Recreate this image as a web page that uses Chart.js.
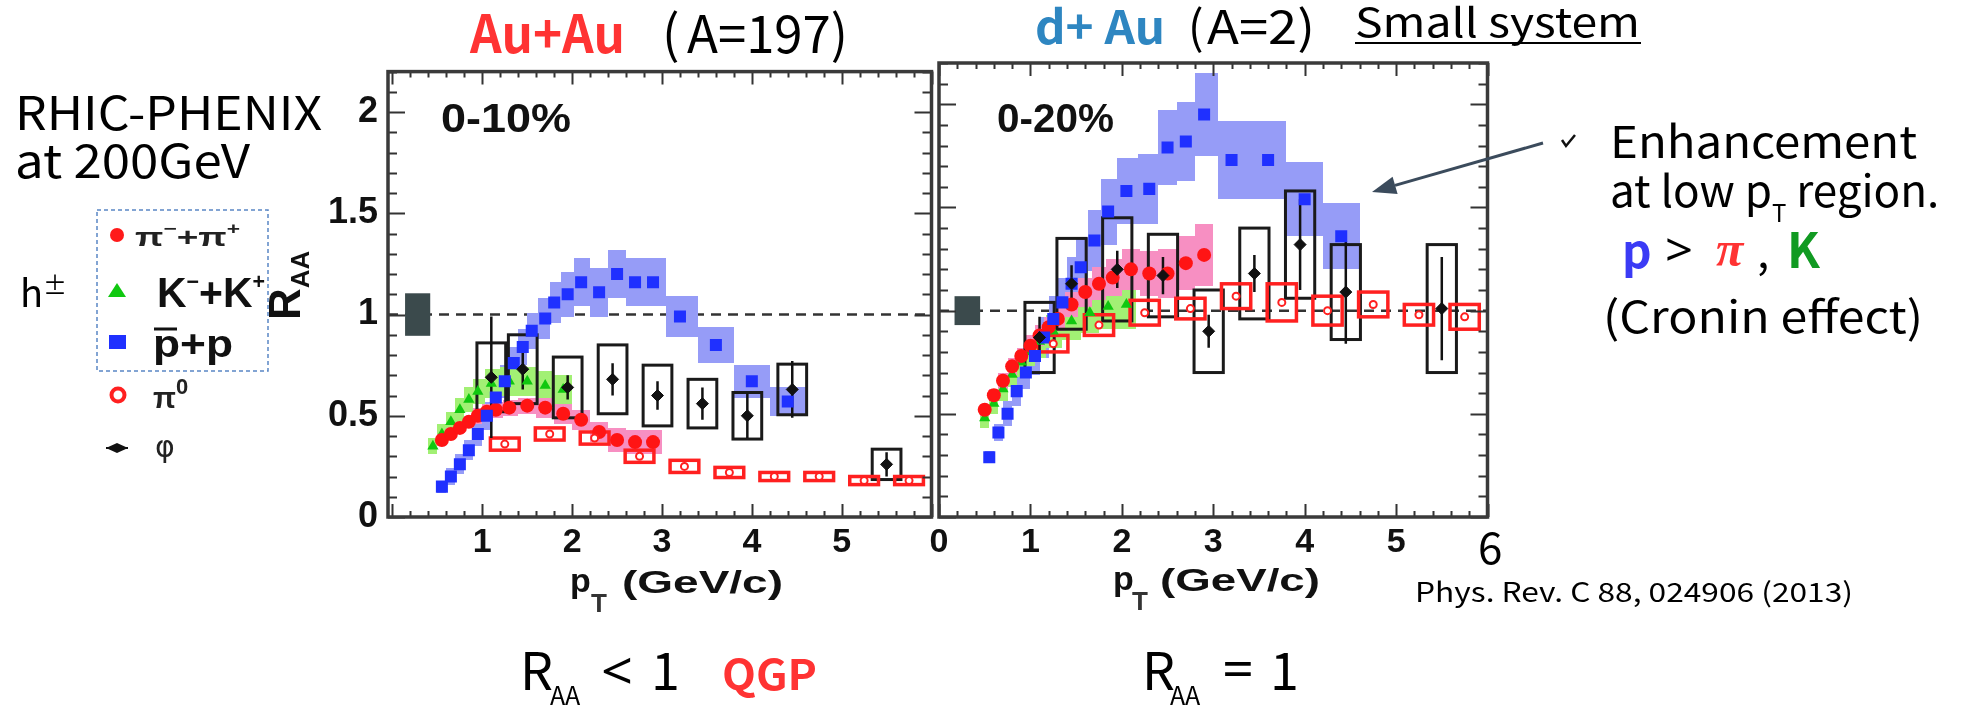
<!DOCTYPE html>
<html>
<head>
<meta charset="utf-8">
<script src="https://cdn.jsdelivr.net/npm/chart.js@4.4.1/dist/chart.umd.min.js"></script>
<style>
html, body { margin: 0; padding: 0; background: #fff; }
#page { position: relative; width: 1976px; height: 706px; overflow: hidden; background: #fff; }
.panel { position: absolute; }
#notes { position: absolute; left: 0; top: 0; pointer-events: none; font-family: 'Noto Sans CJK JP', 'Noto Sans', sans-serif; }
.hv { font-family: 'Liberation Sans', Arial, sans-serif; font-weight: bold; }
.ns { font-family: 'Noto Sans', sans-serif; }
</style>
</head>
<body>
<div id="page">
  <div class="panel" style="left:290px;top:40px;width:650px;height:540px"><canvas id="auau" width="650" height="540"></canvas></div>
  <div class="panel" style="left:920px;top:40px;width:576px;height:540px"><canvas id="dau" width="576" height="540"></canvas></div>

  <svg id="notes" width="1976" height="706">
    <!-- titles -->
    <text x="470" y="53" font-size="52" font-weight="bold" fill="#ff3333" textLength="155" lengthAdjust="spacingAndGlyphs">Au+Au</text>
    <text x="662" y="53" font-size="52">(</text>
    <text x="687" y="53" font-size="52" textLength="161" lengthAdjust="spacingAndGlyphs">A=197)</text>
    <text x="1035" y="44" font-size="46" font-weight="bold" fill="#2e86c1" textLength="130" lengthAdjust="spacingAndGlyphs">d+ Au</text>
    <text x="1188" y="44" font-size="46">(</text>
    <text x="1207" y="44" font-size="46" textLength="108" lengthAdjust="spacingAndGlyphs">A=2)</text>
    <text x="1355" y="37" font-size="40" textLength="285" lengthAdjust="spacingAndGlyphs">Small system</text>
    <line x1="1355" y1="43" x2="1641" y2="43" stroke="#000" stroke-width="2"/>

    <!-- left block -->
    <text x="15" y="130" font-size="46" textLength="307" lengthAdjust="spacingAndGlyphs">RHIC-PHENIX</text>
    <text x="15" y="178" font-size="46" textLength="235" lengthAdjust="spacingAndGlyphs">at 200GeV</text>
    <text x="20" y="307" font-size="38">h<tspan font-size="24" dy="-13">±</tspan></text>

    <!-- legend -->
    <rect x="97" y="210" width="171" height="161" fill="none" stroke="#5a86c5" stroke-width="1.5" stroke-dasharray="4 3"/>
    <circle cx="117" cy="235" r="7" fill="#ff1a1a"/>
    <text class="hv" x="135" y="246" font-size="26" fill="#222" textLength="105" lengthAdjust="spacingAndGlyphs">π<tspan font-size="16" dy="-12">−</tspan><tspan dy="12">+π</tspan><tspan font-size="16" dy="-12">+</tspan></text>
    <polygon points="117,283 108,297 126,297" fill="#10c810"/>
    <text class="hv" x="157" y="307" font-size="42" fill="#111" textLength="108" lengthAdjust="spacingAndGlyphs">K<tspan font-size="22" dy="-18">−</tspan><tspan dy="18">+K</tspan><tspan font-size="22" dy="-18">+</tspan></text>
    <rect x="109" y="335" width="17" height="14" fill="#1f30ff"/>
    <text class="hv" x="153" y="357" font-size="38" fill="#111" textLength="80" lengthAdjust="spacingAndGlyphs">p+p</text>
    <line x1="154" y1="329" x2="177" y2="329" stroke="#111" stroke-width="3"/>
    <circle cx="118" cy="395" r="6.5" fill="#fff" stroke="#ff2020" stroke-width="4"/>
    <text class="hv" x="153" y="408" font-size="30" fill="#222">π<tspan font-size="22" dy="-14">0</tspan></text>
    <polygon points="106,448 117,443 128,448 117,453" fill="#111"/>
    <line x1="106" y1="448" x2="128" y2="448" stroke="#111" stroke-width="2"/>
    <text x="155" y="457" font-size="30" fill="#222" font-family="DejaVu Sans">φ</text>

    <!-- axis titles -->
    <text class="hv" transform="translate(300,320) rotate(-90)" font-size="44" fill="#111">R<tspan font-size="26" dy="9">AA</tspan></text>
    <text class="hv" x="441" y="132" font-size="40" fill="#111" textLength="130" lengthAdjust="spacingAndGlyphs">0-10%</text>
    <text class="hv" x="997" y="132" font-size="40" fill="#111" textLength="117" lengthAdjust="spacingAndGlyphs">0-20%</text>
    <text class="hv" x="570" y="592" font-size="34" fill="#111">p</text>
    <text class="hv" x="591" y="612" font-size="26" fill="#333">T</text>
    <text class="hv" x="622" y="593" font-size="32" fill="#111" textLength="161" lengthAdjust="spacingAndGlyphs">(GeV/c)</text>
    <text class="hv" x="1113" y="590" font-size="34" fill="#111">p</text>
    <text class="hv" x="1132" y="610" font-size="26" fill="#333">T</text>
    <text class="hv" x="1160" y="591" font-size="32" fill="#111" textLength="160" lengthAdjust="spacingAndGlyphs">(GeV/c)</text>

    <!-- page number and reference -->
    <text x="1478" y="564" font-size="44">6</text>
    <text x="1415" y="602" font-size="27" textLength="438" lengthAdjust="spacingAndGlyphs">Phys. Rev. C 88, 024906 (2013)</text>

    <!-- bottom remarks -->
    <text x="520" y="690" font-size="52">R</text>
    <text x="550" y="705" font-size="25">AA</text>
    <text class="ns" x="601" y="690" font-size="52" textLength="32" lengthAdjust="spacingAndGlyphs">&lt;</text>
    <text x="651" y="690" font-size="52">1</text>
    <text x="722" y="690" font-size="42" font-weight="bold" fill="#ff3333" textLength="95" lengthAdjust="spacingAndGlyphs">QGP</text>
    <text x="1142" y="690" font-size="52">R</text>
    <text x="1170" y="705" font-size="25">AA</text>
    <text class="ns" x="1222" y="688" font-size="52" textLength="32" lengthAdjust="spacingAndGlyphs">=</text>
    <text x="1270" y="690" font-size="52">1</text>

    <!-- enhancement note -->
    <path d="M1562,140 l4,6 l9,-11" fill="none" stroke="#111" stroke-width="2.5"/>
    <line x1="1543" y1="143" x2="1395" y2="185.4" stroke="#3b4b5c" stroke-width="3"/>
    <polygon points="1372,192 1397.6,194 1392.6,176.8" fill="#3b4b5c"/>
    <text x="1610" y="158" font-size="44" textLength="307" lengthAdjust="spacingAndGlyphs">Enhancement</text>
    <text x="1610" y="207" font-size="44">at low p<tspan font-size="24" dy="15">T</tspan><tspan dy="-15"> region.</tspan></text>
    <text x="1622" y="268" font-size="46" font-weight="bold" fill="#3b3bf5">p</text>
    <text class="ns" x="1665" y="266" font-size="46" textLength="28" lengthAdjust="spacingAndGlyphs">&gt;</text>
    <text x="1716" y="266" font-size="50" font-weight="bold" font-style="italic" fill="#ff3333" font-family="Liberation Serif, serif">π</text>
    <text x="1757" y="268" font-size="44">,</text>
    <text x="1787" y="268" font-size="48" font-weight="bold" fill="#119a22">K</text>
    <text x="1603" y="333" font-size="44" textLength="320" lengthAdjust="spacingAndGlyphs">(Cronin effect)</text>
  </svg>
</div>

<script>
// ---- Au+Au 0-10% ----
const auPiX = [0.55, 0.65, 0.75, 0.85, 0.95, 1.05, 1.15, 1.3, 1.5, 1.7, 1.9, 2.1, 2.3, 2.5, 2.7, 2.9];
const auPiY = [0.38, 0.41, 0.44, 0.47, 0.50, 0.52, 0.53, 0.54, 0.55, 0.54, 0.51, 0.48, 0.42, 0.38, 0.37, 0.37];
const auPiSys = [0.03, 0.03, 0.03, 0.03, 0.04, 0.04, 0.04, 0.04, 0.04, 0.05, 0.05, 0.05, 0.05, 0.06, 0.06, 0.06];

const auKX = [0.45, 0.55, 0.65, 0.75, 0.85, 0.95, 1.1, 1.3, 1.5, 1.7, 1.9];
const auKY = [0.35, 0.41, 0.47, 0.53, 0.58, 0.62, 0.66, 0.67, 0.67, 0.65, 0.63];
const auKSys = [0.04, 0.05, 0.05, 0.06, 0.06, 0.06, 0.07, 0.07, 0.07, 0.07, 0.07];

const auPX = [0.55, 0.65, 0.75, 0.85, 0.95, 1.05, 1.15, 1.25, 1.35, 1.45, 1.55, 1.7, 1.8, 1.95, 2.1, 2.3, 2.5, 2.7, 2.9, 3.2, 3.6, 4.0, 4.4];
const auPY = [0.15, 0.20, 0.26, 0.33, 0.41, 0.50, 0.59, 0.67, 0.76, 0.84, 0.92, 0.98, 1.06, 1.10, 1.16, 1.11, 1.20, 1.16, 1.16, 0.99, 0.85, 0.67, 0.57];
const auPSys = [0.03, 0.04, 0.05, 0.05, 0.06, 0.07, 0.07, 0.08, 0.08, 0.09, 0.09, 0.10, 0.10, 0.11, 0.12, 0.12, 0.12, 0.12, 0.12, 0.10, 0.09, 0.08, 0.07];

const auPi0X = [1.25, 1.75, 2.25, 2.75, 3.25, 3.75, 4.25, 4.75, 5.25, 5.75];
const auPi0Y = [0.36, 0.41, 0.39, 0.30, 0.25, 0.22, 0.20, 0.20, 0.18, 0.18];
const auPi0Sys = [0.03, 0.03, 0.03, 0.03, 0.03, 0.025, 0.02, 0.02, 0.02, 0.02];

const auPhiX = [1.1, 1.45, 1.95, 2.45, 2.95, 3.45, 3.95, 4.45, 5.5];
const auPhiY = [0.69, 0.73, 0.64, 0.68, 0.60, 0.56, 0.50, 0.63, 0.26];
const auPhiStat = [0.30, 0.10, 0.06, 0.08, 0.07, 0.08, 0.11, 0.14, 0.06];
const auPhiSys = [0.17, 0.17, 0.15, 0.17, 0.15, 0.12, 0.115, 0.125, 0.075];

const auNormX = 0.28;
const auNorm = 0.105;

// ---- d+Au 0-20% ----
const dPiX = [0.5, 0.6, 0.7, 0.8, 0.9, 1.0, 1.1, 1.2, 1.3, 1.45, 1.6, 1.75, 1.9, 2.1, 2.3, 2.5, 2.7, 2.9];
const dPiY = [0.52, 0.59, 0.66, 0.73, 0.78, 0.83, 0.88, 0.92, 0.96, 1.03, 1.09, 1.13, 1.16, 1.20, 1.18, 1.18, 1.23, 1.27];
const dPiSys = [0.03, 0.03, 0.04, 0.04, 0.04, 0.05, 0.05, 0.05, 0.06, 0.06, 0.07, 0.08, 0.09, 0.10, 0.11, 0.12, 0.13, 0.15];

const dKX = [0.5, 0.6, 0.7, 0.8, 0.9, 1.0, 1.1, 1.25, 1.45, 1.65, 1.85, 2.05];
const dKY = [0.48, 0.55, 0.62, 0.69, 0.75, 0.80, 0.85, 0.90, 0.95, 0.99, 1.02, 1.03];
const dKSys = [0.05, 0.05, 0.06, 0.06, 0.07, 0.07, 0.08, 0.08, 0.09, 0.10, 0.11, 0.12];

const dPX = [0.55, 0.65, 0.75, 0.85, 0.95, 1.05, 1.15, 1.25, 1.35, 1.45, 1.55, 1.7, 1.85, 2.05, 2.3, 2.5, 2.7, 2.9, 3.2, 3.6, 4.0, 4.4];
const dPY = [0.29, 0.41, 0.50, 0.61, 0.70, 0.78, 0.87, 0.96, 1.04, 1.13, 1.21, 1.34, 1.48, 1.58, 1.59, 1.79, 1.82, 1.95, 1.73, 1.73, 1.54, 1.36];
const dPSys = [0.03, 0.04, 0.06, 0.07, 0.08, 0.09, 0.10, 0.11, 0.12, 0.13, 0.14, 0.15, 0.16, 0.16, 0.17, 0.18, 0.19, 0.20, 0.19, 0.19, 0.18, 0.16];

const dPi0X = [1.25, 1.75, 2.25, 2.75, 3.25, 3.75, 4.25, 4.75, 5.25, 5.75];
const dPi0Y = [0.84, 0.93, 0.99, 1.01, 1.07, 1.04, 1.00, 1.03, 0.98, 0.97];
const dPi0Sys = [0.04, 0.05, 0.06, 0.05, 0.06, 0.09, 0.07, 0.06, 0.05, 0.06];

const dPhiX = [1.1, 1.45, 1.95, 2.45, 2.95, 3.45, 3.95, 4.45, 5.5];
const dPhiY = [0.87, 1.13, 1.20, 1.17, 0.90, 1.18, 1.32, 1.09, 1.01];
const dPhiStat = [0.10, 0.09, 0.09, 0.09, 0.08, 0.09, 0.22, 0.25, 0.25];
const dPhiSys = [0.17, 0.22, 0.25, 0.20, 0.20, 0.22, 0.26, 0.23, 0.31];

const dNormX = 0.31;
const dNorm = 0.07;

const pts = (xs, ys) => xs.map((x, i) => ({ x: x, y: ys[i] }));

// bands, boxes, error bars, R=1 line, inward ticks
const decor = {
  id: 'decor',
  beforeDatasetsDraw(chart, args, opts) {
    const { ctx, chartArea: a, scales: { x, y } } = chart;
    const X = v => x.getPixelForValue(v), Y = v => y.getPixelForValue(v);
    ctx.save();
    ctx.beginPath();
    ctx.rect(a.left, a.top, a.width, a.height);
    ctx.clip();

    ctx.strokeStyle = '#333';
    ctx.lineWidth = 2.5;
    ctx.setLineDash([10, 7]);
    ctx.beginPath();
    ctx.moveTo(X(x.min), Y(1));
    ctx.lineTo(X(x.max), Y(1));
    ctx.stroke();
    ctx.setLineDash([]);

    ctx.fillStyle = '#3b4a4c';
    ctx.fillRect(X(opts.normX - 0.14), Y(1 + opts.norm), X(opts.normX + 0.14) - X(opts.normX - 0.14), Y(1 - opts.norm) - Y(1 + opts.norm));

    chart.data.datasets.filter(d => d.band).sort((p, q) => p.layer - q.layer).forEach(d => {
      const xs = d.data.map(p => p.x);
      ctx.fillStyle = d.bandColor;
      ctx.beginPath();
      d.data.forEach((p, i) => {
        const lo = i > 0 ? (xs[i - 1] + p.x) / 2 : p.x - (xs[1] - p.x) / 2;
        const hi = i < xs.length - 1 ? (xs[i + 1] + p.x) / 2 : p.x + (p.x - xs[i - 1]) / 2;
        const l = Math.round(X(lo)), r = Math.round(X(hi));
        const t = Math.round(Y(p.y + d.band[i])), b = Math.round(Y(p.y - d.band[i]));
        ctx.rect(l, t, r - l, b - t);
      });
      ctx.fill();
    });

    chart.data.datasets.filter(d => d.boxes).forEach(d => {
      ctx.strokeStyle = d.boxColor;
      ctx.lineWidth = d.boxLine;
      d.data.forEach((p, i) => {
        const l = X(p.x - 0.16), r = X(p.x + 0.16);
        const t = Y(p.y + d.boxes[i]), b = Y(p.y - d.boxes[i]);
        ctx.strokeRect(l, t, r - l, b - t);
      });
    });

    chart.data.datasets.filter(d => d.stat).forEach(d => {
      ctx.strokeStyle = '#111';
      ctx.lineWidth = 2.5;
      ctx.beginPath();
      d.data.forEach((p, i) => {
        ctx.moveTo(X(p.x), Y(p.y + d.stat[i]));
        ctx.lineTo(X(p.x), Y(p.y - d.stat[i]));
      });
      ctx.stroke();
    });
    ctx.restore();
  },
  afterDraw(chart) {
    const { ctx, chartArea: a, scales: { x, y } } = chart;
    ctx.save();
    ctx.strokeStyle = '#333';
    ctx.lineWidth = 2;
    ctx.beginPath();
    for (let i = Math.ceil(x.min * 5); i <= Math.floor(x.max * 5 + 1e-6); i++) {
      const px = Math.round(x.getPixelForValue(i / 5)) + 0.5;
      const len = i % 5 === 0 ? 13 : 6;
      ctx.moveTo(px, a.bottom); ctx.lineTo(px, a.bottom - len);
      ctx.moveTo(px, a.top); ctx.lineTo(px, a.top + len);
    }
    for (let i = 0; i <= Math.floor(y.max * 10 + 1e-6); i++) {
      const py = Math.round(y.getPixelForValue(i / 10)) + 0.5;
      const len = i % 5 === 0 ? 17 : 9;
      ctx.moveTo(a.left, py); ctx.lineTo(a.left + len, py);
      ctx.moveTo(a.right, py); ctx.lineTo(a.right - len, py);
    }
    ctx.stroke();
    ctx.strokeStyle = '#3a3a3a';
    ctx.lineWidth = 3.5;
    ctx.strokeRect(a.left, a.top, a.width, a.height);
    ctx.restore();
  }
};

function makeSets(pi, k, p, pi0, phi) {
  return [
    { label: 'phi', data: pts(phi[0], phi[1]), stat: phi[2], boxes: phi[3], boxColor: '#1a1a1a', boxLine: 3,
      pointStyle: 'rectRot', pointRadius: 6, backgroundColor: '#111', borderColor: '#111', borderWidth: 1 },
    { label: 'pi0', data: pts(pi0[0], pi0[1]), boxes: pi0[2], boxColor: '#ff2020', boxLine: 3.5,
      pointStyle: 'circle', pointRadius: 3.5, backgroundColor: '#fff', borderColor: '#ff2020', borderWidth: 2 },
    { label: 'p', data: pts(p[0], p[1]), band: p[2], bandColor: '#969cf7', layer: 0,
      pointStyle: 'rect', pointRadius: 8.5, backgroundColor: '#1f30ff', borderWidth: 0 },
    { label: 'pi', data: pts(pi[0], pi[1]), band: pi[2], bandColor: '#f78fc2', layer: 2,
      pointStyle: 'circle', pointRadius: 7, backgroundColor: '#ff1414', borderWidth: 0 },
    { label: 'K', data: pts(k[0], k[1]), band: k[2], bandColor: '#a2f074', layer: 1,
      pointStyle: 'triangle', pointRadius: 6.5, backgroundColor: '#10c810', borderWidth: 0 }
  ];
}

function makePanel(id, datasets, cfg) {
  return new Chart(document.getElementById(id), {
    type: 'scatter',
    data: { datasets: datasets },
    options: {
      responsive: false,
      animation: false,
      events: [],
      layout: { padding: cfg.padding },
      plugins: {
        legend: { display: false },
        tooltip: { enabled: false },
        decor: { normX: cfg.normX, norm: cfg.norm }
      },
      scales: {
        x: {
          type: 'linear', min: cfg.xMin, max: 6,
          grid: { display: false, drawTicks: false },
          border: { display: false },
          ticks: {
            stepSize: 1, includeBounds: false, autoSkip: false, maxRotation: 0, padding: 5,
            color: '#111', font: { family: 'Liberation Sans', weight: 'bold', size: 34 },
            callback: v => (v >= cfg.firstLabel && v <= 5 ? String(v) : '')
          },
          afterFit: s => { s.height = 63; }
        },
        y: {
          type: 'linear', min: 0, max: 2.2, display: cfg.showY,
          grid: { display: false, drawTicks: false },
          border: { display: false },
          ticks: {
            stepSize: 0.5, includeBounds: false, padding: 10,
            color: '#111', font: { family: 'Liberation Sans', weight: 'bold', size: 36 },
            callback: v => String(v)
          },
          afterFit: s => { s.width = cfg.showY ? 98 : 0; }
        }
      }
    },
    plugins: [decor]
  });
}

makePanel('auau',
  makeSets([auPiX, auPiY, auPiSys], [auKX, auKY, auKSys], [auPX, auPY, auPSys],
           [auPi0X, auPi0Y, auPi0Sys], [auPhiX, auPhiY, auPhiStat, auPhiSys]),
  { padding: { top: 23, right: 1, left: 0, bottom: 0 }, xMin: -0.05, firstLabel: 1, showY: true, normX: auNormX, norm: auNorm });

makePanel('dau',
  makeSets([dPiX, dPiY, dPiSys], [dKX, dKY, dKSys], [dPX, dPY, dPSys],
           [dPi0X, dPi0Y, dPi0Sys], [dPhiX, dPhiY, dPhiStat, dPhiSys]),
  { padding: { top: 23, right: 2, left: 19, bottom: 0 }, xMin: 0, firstLabel: 0, showY: false, normX: dNormX, norm: dNorm });
</script>
</body>
</html>
